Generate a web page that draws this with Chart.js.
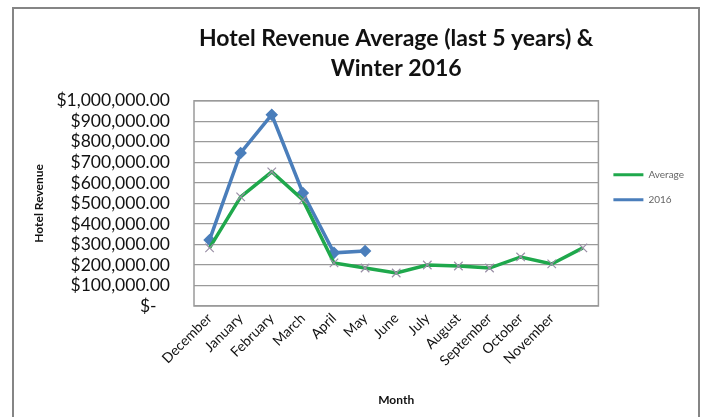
<!DOCTYPE html>
<html>
<head>
<meta charset="utf-8">
<script src="https://cdn.jsdelivr.net/npm/chart.js@4/dist/chart.umd.min.js"></script>
<style>
html,body{margin:0;padding:0;background:#fff;}
#wrap{position:relative;width:706px;height:417px;overflow:hidden;}
#frame{position:absolute;left:12px;top:7px;width:688px;height:430px;border:2px solid #858585;box-sizing:border-box;}
canvas{position:absolute;left:0;top:0;}
</style>
</head>
<body>
<div id="wrap"><div id="frame"></div><canvas id="c" width="706" height="417"></canvas></div>
<script>
const categories = ['December','January','February','March','April','May','June','July','August','September','October','November',''];
const averageValues = [283000,532000,654000,517000,210000,185000,161000,200000,195000,185000,239000,205000,283000];
const values2016 = [322000,746000,932000,551000,259000,268000,null,null,null,null,null,null,null];
const titleLines = ['Hotel Revenue Average (last 5 years) &','Winter 2016'];
const seriesNames = ['Average','2016'];

const areaBorder = {
  id:'areaBorder',
  beforeDatasetsDraw(chart){
    const {ctx, chartArea:a} = chart;
    ctx.save();
    ctx.strokeStyle='#9a9a9a';
    ctx.lineWidth=1.5;
    ctx.strokeRect(a.left, a.top, a.right-a.left, a.bottom-a.top);
    ctx.restore();
  }
};

function fmt(v){
  if (v === 0) return '$-   ';
  return '$' + v.toLocaleString('en-US',{minimumFractionDigits:2, maximumFractionDigits:2});
}

new Chart(document.getElementById('c'), {
  type:'line',
  data:{
    labels:categories,
    datasets:[
      {label:seriesNames[0], data:averageValues, borderColor:'#1fa84c', backgroundColor:'#1fa84c',
       borderWidth:3.5, pointStyle:'crossRot', pointRadius:6, pointBorderColor:'#9a8fa6', pointBorderWidth:1.2,
       tension:0},
      {label:seriesNames[1], data:values2016, borderColor:'#4a7ebb', backgroundColor:'#4a7ebb',
       borderWidth:3.5, pointStyle:'rectRot', pointRadius:3.8, pointBorderColor:'#4a7ebb', pointBackgroundColor:'#4a7ebb',
       tension:0, spanGaps:false}
    ]
  },
  options:{
    responsive:false,
    animation:false,
    layout:{padding:{left:26,right:12,top:14,bottom:6}},
    plugins:{
      title:{display:true, text:titleLines, fullSize:false, color:'#111',
        font:{family:'Lato', size:23, weight:'bold', lineHeight:1.3}, padding:{top:10,bottom:17}},
      legend:{display:true, position:'right', align:'start',
        title:{display:true, text:'', font:{size:9}, padding:{top:130,bottom:0}},
        labels:{boxWidth:30, boxHeight:3, padding:15, color:'#111', font:{family:'Lato', size:10},
          generateLabels(chart){
            return chart.data.datasets.map((d,i)=>({text:d.label, fillStyle:d.borderColor, strokeStyle:d.borderColor,
              lineWidth:0, hidden:false, datasetIndex:i}));
          }}},
      tooltip:{enabled:false}
    },
    scales:{
      x:{
        offset:true,
        grid:{display:false, drawTicks:false},
        border:{display:false},
        ticks:{color:'#111', font:{family:'Lato', size:14}, minRotation:45, maxRotation:45, padding:4, autoSkip:false},
        title:{display:true, text:'Month', color:'#111', font:{family:'Lato', size:12, weight:'bold'}, padding:{top:4,bottom:4}},
        afterFit(s){ s.height = 105; }
      },
      y:{
        min:0, max:1000000,
        grid:{color:'#9a9a9a', lineWidth:1.3, drawTicks:false},
        border:{display:false},
        ticks:{stepSize:100000, autoSkip:false, color:'#111', font:{family:'Lato', size:17.5}, padding:24, callback:(v)=>fmt(v)},
        title:{display:true, text:'Hotel Revenue', color:'#111', font:{family:'Lato', size:12, weight:'bold'}, padding:{top:6,bottom:2}},
        afterFit(s){ s.width = 168; }
      }
    }
  },
  plugins:[areaBorder]
});
</script>
</body>
</html>
